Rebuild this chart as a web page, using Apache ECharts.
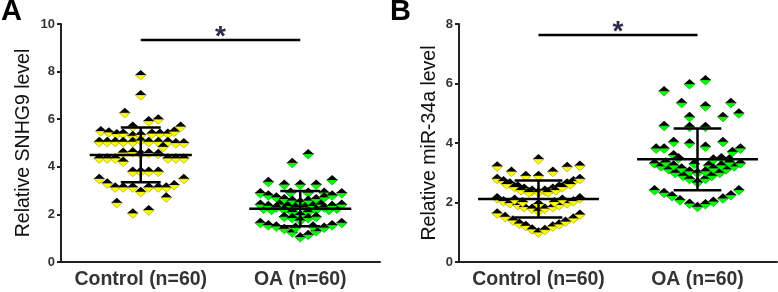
<!DOCTYPE html>
<html>
<head>
<meta charset="utf-8">
<script src="https://cdn.jsdelivr.net/npm/echarts@6/dist/echarts.min.js"></script>
<style>
html, body { margin: 0; padding: 0; background: #fff; }
#chart { width: 778px; height: 292px; }
</style>
</head>
<body>
<div id="chart"></div>
<script>
var categories = ['Control (n=60)', 'OA (n=60)'];

// dots: [offset from category centre, value]
var ctrlA = [
    [0.00, 7.86], [0.00, 7.02], [-0.10, 6.27], [0.05, 5.92], [0.11, 6.00], [0.25, 5.69], [-0.05, 5.69],
    [-0.25, 5.50], [-0.20, 5.45], [-0.15, 5.38], [-0.11, 5.40], [-0.05, 5.30], [0.00, 5.35], [0.07, 5.40],
    [0.12, 5.40], [0.17, 5.40], [0.21, 5.48],
    [-0.26, 5.05], [-0.21, 5.05], [-0.16, 5.05], [-0.11, 5.05], [-0.05, 5.05], [0.00, 5.10], [0.05, 5.05],
    [0.11, 5.05], [0.17, 5.05], [0.22, 5.00], [0.27, 5.00],
    [-0.11, 4.60], [-0.05, 4.62], [0.00, 4.55], [0.05, 4.58], [0.11, 4.55], [0.14, 4.84],
    [-0.26, 4.36], [-0.21, 4.36], [-0.16, 4.36], [-0.11, 4.22], [0.17, 4.36], [0.22, 4.36], [0.27, 4.36],
    [-0.05, 3.80], [0.00, 3.80], [0.05, 3.80], [0.11, 3.80],
    [-0.26, 3.50], [0.27, 3.50],
    [-0.21, 3.31], [-0.16, 3.14], [-0.11, 3.14], [-0.05, 3.14], [0.00, 2.95], [0.05, 3.14], [0.11, 3.14],
    [0.16, 3.14], [0.21, 3.24],
    [0.16, 2.72], [-0.15, 2.49], [0.05, 2.18], [-0.05, 2.05]
];
var oaA = [
    [0.05, 4.54], [-0.05, 4.17], [-0.20, 3.37], [-0.10, 3.26], [0.00, 3.26], [0.10, 3.26], [0.20, 3.45],
    [-0.06, 2.92], [0.05, 2.92], [0.15, 2.92],
    [-0.25, 2.90], [-0.20, 2.80], [-0.15, 2.72], [-0.10, 2.65], [-0.05, 2.58], [0.00, 2.52], [0.05, 2.58],
    [0.10, 2.65], [0.15, 2.72], [0.20, 2.80], [0.26, 2.90],
    [-0.23, 2.25], [-0.18, 2.20], [-0.13, 2.42], [-0.08, 2.35], [-0.03, 2.30], [0.03, 2.30], [0.08, 2.35],
    [0.13, 2.42], [0.18, 2.20], [0.23, 2.25],
    [-0.25, 2.42], [-0.20, 2.36], [-0.15, 2.30], [-0.10, 2.20], [-0.05, 2.10], [0.00, 1.98], [0.05, 2.10],
    [0.10, 2.20], [0.15, 2.30], [0.20, 2.36], [0.26, 2.42],
    [-0.10, 1.90], [-0.05, 1.85], [0.00, 1.75], [0.05, 1.85], [0.10, 1.90],
    [-0.25, 1.65], [-0.20, 1.55], [-0.15, 1.50], [-0.10, 1.40], [-0.05, 1.25], [0.00, 1.05], [0.05, 1.15],
    [0.10, 1.30], [0.15, 1.45], [0.20, 1.55], [0.26, 1.65],
    [-0.03, 1.45], [0.08, 1.50]
];
var ctrlB = [
    [0.00, 3.46], [-0.26, 3.22], [0.26, 3.24], [0.18, 3.20], [-0.17, 3.04], [-0.08, 2.90], [0.00, 2.90], [0.09, 3.04],
    [-0.26, 2.80], [-0.22, 2.72], [-0.18, 2.65], [-0.13, 2.55], [-0.09, 2.47], [-0.04, 2.40], [0.00, 2.35],
    [0.04, 2.40], [0.09, 2.47], [0.13, 2.55], [0.18, 2.65], [0.22, 2.72], [0.26, 2.80],
    [-0.20, 2.62], [-0.15, 2.52], [-0.11, 2.42], [-0.06, 2.35], [0.06, 2.35], [0.11, 2.42], [0.15, 2.52], [0.20, 2.62],
    [-0.26, 2.15], [-0.22, 2.05], [-0.18, 1.98], [-0.13, 1.92], [-0.09, 1.85], [-0.04, 1.80], [0.00, 1.72],
    [0.04, 1.80], [0.09, 1.85], [0.13, 1.92], [0.18, 1.98], [0.22, 2.05], [0.26, 2.15],
    [-0.15, 2.10], [-0.10, 2.02], [0.00, 1.95], [0.10, 2.02], [0.15, 2.10],
    [-0.26, 1.64], [-0.21, 1.52], [-0.16, 1.40], [-0.12, 1.29], [-0.08, 1.22], [-0.04, 1.10], [0.00, 1.00],
    [0.04, 1.08], [0.09, 1.20], [0.13, 1.27], [0.17, 1.36], [0.22, 1.47], [0.26, 1.60]
];
var oaB = [
    [0.05, 6.12], [-0.05, 5.98], [-0.21, 5.75], [-0.10, 5.35], [0.05, 5.24], [0.21, 5.35], [0.26, 5.00],
    [-0.05, 4.88], [0.16, 4.88], [-0.21, 4.58], [-0.05, 4.55], [0.05, 4.55], [-0.15, 4.04], [-0.05, 3.99],
    [0.05, 3.88], [0.16, 4.04], [-0.26, 3.82], [-0.21, 3.82], [0.27, 3.82], [0.22, 3.71], [-0.15, 3.60],
    [-0.12, 3.50], [0.10, 3.45], [0.15, 3.50], [0.20, 3.45], [-0.02, 3.30], [0.07, 3.25],
    [-0.27, 3.32], [-0.23, 3.22], [-0.18, 3.12], [-0.14, 3.00], [-0.09, 2.90], [-0.05, 2.80], [0.00, 2.68],
    [0.05, 2.80], [0.09, 2.90], [0.14, 3.00], [0.18, 3.12], [0.23, 3.22], [0.27, 3.32],
    [-0.20, 3.35], [-0.15, 3.25], [-0.10, 3.15], [-0.05, 3.05], [0.00, 3.00], [0.05, 3.05], [0.10, 3.15],
    [0.15, 3.25], [0.20, 3.35],
    [-0.27, 2.42], [-0.21, 2.33], [-0.16, 2.22], [-0.11, 2.08], [-0.05, 1.97], [0.00, 1.86], [0.05, 1.95],
    [0.10, 2.03], [0.16, 2.14], [0.21, 2.25], [0.26, 2.42]
];

// mean and SD of each group
var meanA = [4.50, 2.24];
var sdA = [1.15, 0.74];
var meanB = [2.12, 3.45];
var sdB = [0.62, 1.04];
var sigA = 9.33;
var sigB = 7.63;

var font = 'Liberation Sans, Arial, sans-serif';

function place(points, cat) {
    return points.map(function (p) { return [cat + p[0], p[1]]; });
}

function dotSeries(data, gi, fill, edge) {
    return {
        type: 'custom',
        xAxisIndex: gi * 2 + 1,
        yAxisIndex: gi,
        data: data,
        renderItem: function (params, api) {
            var p = api.coord([api.value(0), api.value(1)]);
            var w = 5.5, h = 5;
            return {
                type: 'group',
                children: [
                    { type: 'polygon', shape: { points: [[p[0] - w, p[1]], [p[0] + w, p[1]], [p[0], p[1] + h]] },
                      style: { fill: fill, stroke: edge, lineWidth: 0.7 } },
                    { type: 'polygon', shape: { points: [[p[0] - w, p[1]], [p[0], p[1] - h], [p[0] + w, p[1]]] },
                      style: { fill: '#000' } }
                ]
            };
        }
    };
}

function statSeries(means, sds, gi, meanHalf, capHalf) {
    return {
        type: 'custom',
        xAxisIndex: gi * 2 + 1,
        yAxisIndex: gi,
        data: means.map(function (m, i) { return [i, m, sds[i]]; }),
        renderItem: function (params, api) {
            var c = api.value(0), m = api.value(1), s = api.value(2);
            var l = api.coord([c - meanHalf, m]), r = api.coord([c + meanHalf, m]);
            var t = api.coord([c, m + s]), b = api.coord([c, m - s]);
            var cl = api.coord([c - capHalf, m])[0], cr = api.coord([c + capHalf, m])[0];
            var st = { stroke: '#000', lineWidth: 2.5 };
            return {
                type: 'group',
                children: [
                    { type: 'line', shape: { x1: l[0], y1: l[1], x2: r[0], y2: r[1] }, style: st },
                    { type: 'line', shape: { x1: t[0], y1: t[1], x2: b[0], y2: b[1] }, style: st },
                    { type: 'line', shape: { x1: cl, y1: t[1], x2: cr, y2: t[1] }, style: st },
                    { type: 'line', shape: { x1: cl, y1: b[1], x2: cr, y2: b[1] }, style: st }
                ]
            };
        }
    };
}

function sigSeries(level, gi) {
    return {
        type: 'custom',
        xAxisIndex: gi * 2 + 1,
        yAxisIndex: gi,
        data: [[0, 1, level]],
        renderItem: function (params, api) {
            var a = api.coord([api.value(0), api.value(2)]);
            var b = api.coord([api.value(1), api.value(2)]);
            return {
                type: 'group',
                children: [
                    { type: 'line', shape: { x1: a[0], y1: a[1], x2: b[0], y2: b[1] },
                      style: { stroke: '#000', lineWidth: 2.5 } },
                    { type: 'text', x: (a[0] + b[0]) / 2, y: a[1] - 3,
                      style: { text: '*', fill: '#2b2b4a', font: 'bold 28px ' + font,
                               align: 'center', verticalAlign: 'middle' } }
                ]
            };
        }
    };
}

function catAxis(gi) {
    return {
        type: 'category', gridIndex: gi, data: categories,
        axisLine: { onZero: false, lineStyle: { color: '#222', width: 2 } },
        axisTick: { alignWithLabel: true, length: 5, lineStyle: { color: '#222', width: 2 } },
        axisLabel: { interval: 0, margin: 8, color: '#333', fontSize: 19.5, fontWeight: 'bold', fontFamily: font }
    };
}

function posAxis(gi) {
    return { type: 'value', gridIndex: gi, min: -0.5, max: 1.5, show: false };
}

function valAxis(gi, max, name, gap) {
    return {
        type: 'value', gridIndex: gi, min: 0, max: max, interval: 2,
        name: name, nameLocation: 'middle', nameGap: gap,
        nameTextStyle: { color: '#111', fontSize: 19.5, fontFamily: font },
        axisLine: { show: true, onZero: false, lineStyle: { color: '#222', width: 2 } },
        axisTick: { show: true, length: 4, lineStyle: { color: '#222', width: 2 } },
        axisLabel: { margin: 6, color: '#333', fontSize: 13, fontWeight: 'bold', fontFamily: font },
        splitLine: { show: false }
    };
}

var chart = echarts.init(document.getElementById('chart'));
chart.setOption({
    animation: false,
    backgroundColor: '#fff',
    grid: [
        { left: 61, top: 24, width: 319, height: 238 },
        { left: 459, top: 24, width: 318, height: 238 }
    ],
    xAxis: [catAxis(0), posAxis(0), catAxis(1), posAxis(1)],
    yAxis: [
        valAxis(0, 10, 'Relative SNHG9 level', 27),
        valAxis(1, 8, 'Relative miR-34a level', 19)
    ],
    graphic: [
        { type: 'text', left: 1, top: -3, style: { text: 'A', fill: '#000', font: 'bold 29px ' + font } },
        { type: 'text', left: 390, top: -3, style: { text: 'B', fill: '#000', font: 'bold 29px ' + font } }
    ],
    series: [
        dotSeries(place(ctrlA, 0), 0, '#ffff00', '#a0a000'),
        dotSeries(place(oaA, 1), 0, '#00ff00', '#00a000'),
        dotSeries(place(ctrlB, 0), 1, '#ffff00', '#a0a000'),
        dotSeries(place(oaB, 1), 1, '#00ff00', '#00a000'),
        statSeries(meanA, sdA, 0, 0.32, 0.125),
        statSeries(meanB, sdB, 1, 0.38, 0.15),
        sigSeries(sigA, 0),
        sigSeries(sigB, 1)
    ]
});
</script>
</body>
</html>
